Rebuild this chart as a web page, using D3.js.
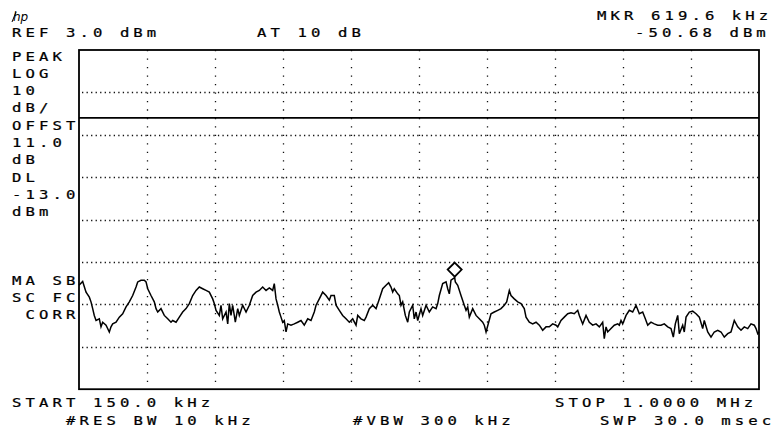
<!DOCTYPE html>
<html>
<head>
<meta charset="utf-8">
<script src="https://cdn.jsdelivr.net/npm/d3@7"></script>
<style>
  body { margin: 0; background: #fff; }
  text.lbl { font-family: "DejaVu Sans Mono", monospace; font-size: 13px; letter-spacing: 3.42px; white-space: pre; fill: #000; stroke: #000; stroke-width: 0.25px; }
</style>
</head>
<body>
<div id="chart"></div>
<script>
// Trace: frequency (kHz) and level (dBm)
const traceKHz = [150.0,154.6,158.8,162.9,165.0,167.1,169.1,171.3,175.4,177.5,179.6,183.8,187.9,190.0,192.1,196.3,200.4,204.6,208.8,212.9,
  217.1,221.3,223.4,227.5,231.6,233.8,235.9,240.0,244.1,246.3,248.4,252.5,256.6,260.9,265.0,267.1,271.3,275.4,279.6,283.8,
  287.9,292.1,296.3,300.4,304.6,308.8,312.9,317.1,319.1,321.3,325.4,327.5,329.6,333.8,335.9,337.9,340.0,342.1,345.4,348.4,
  350.4,354.6,358.8,362.9,367.1,371.3,375.4,379.6,383.8,387.9,392.1,394.1,396.3,398.4,400.4,402.5,404.6,406.6,408.8,410.9,
  415.0,419.1,423.4,427.5,431.6,435.9,440.0,444.1,446.3,450.4,454.6,458.8,462.9,465.0,469.1,471.3,475.4,479.6,483.8,487.9,
  492.1,496.3,498.4,502.5,506.6,508.8,512.9,517.1,521.3,525.4,529.6,533.8,537.1,540.0,542.1,544.1,548.4,550.4,552.5,554.6,
  557.9,560.9,562.9,567.1,569.1,571.3,573.4,577.5,579.6,583.8,587.9,592.1,596.3,598.4,600.4,604.6,608.8,610.9,612.9,615.0,
  619.6,620.4,623.4,627.5,631.6,633.8,635.9,637.9,642.1,646.3,650.4,654.6,656.6,658.8,662.1,665.0,669.1,673.4,677.5,681.6,
  684.6,687.9,690.0,694.1,698.4,702.5,706.6,708.8,712.9,717.1,721.3,725.4,729.6,733.8,737.9,742.1,746.3,748.4,752.5,756.6,
  760.9,765.0,769.1,773.4,775.4,779.6,783.8,787.9,792.1,796.3,800.4,804.6,806.6,808.8,810.9,815.0,819.1,823.4,825.4,827.5,
  829.6,833.8,837.9,842.1,846.3,850.4,854.6,857.9,860.9,865.0,869.1,873.4,877.5,881.6,885.9,890.0,892.9,895.4,898.4,900.4,
  904.6,906.6,908.8,912.9,917.1,921.3,925.4,929.6,931.6,935.9,940.0,944.1,948.4,952.5,956.6,960.9,965.0,969.1,973.4,977.5,
  981.6,985.9,990.0,994.1,996.3,998.4,1000.0];
const traceDbm = [-52.5,-51.6,-54.1,-55.3,-56.4,-58.0,-59.6,-60.8,-60.4,-62.3,-61.2,-61.9,-63.5,-62.3,-61.6,-61.2,-60.0,-59.2,-57.6,-56.4,
  -54.9,-52.9,-51.7,-51.3,-51.3,-51.7,-53.3,-54.9,-56.4,-58.0,-58.8,-58.0,-59.6,-60.4,-61.2,-60.8,-61.2,-60.0,-58.8,-58.0,
  -56.8,-54.9,-53.7,-52.9,-53.3,-53.7,-54.1,-55.7,-56.8,-58.4,-59.6,-57.2,-60.4,-58.8,-61.6,-56.8,-59.6,-57.2,-61.2,-58.0,
  -59.6,-57.2,-58.8,-57.2,-54.9,-54.1,-53.7,-52.9,-53.7,-53.1,-53.7,-52.1,-55.7,-57.2,-58.8,-60.0,-61.2,-60.8,-63.5,-61.6,
  -61.9,-61.6,-61.2,-60.8,-61.9,-60.4,-60.8,-58.8,-57.2,-55.7,-54.1,-54.9,-56.0,-54.9,-54.9,-57.2,-58.4,-59.6,-60.4,-61.2,
  -60.4,-61.9,-59.6,-60.4,-60.8,-60.0,-58.0,-57.2,-58.0,-55.7,-53.3,-52.5,-51.9,-52.9,-54.1,-53.3,-54.5,-54.9,-57.2,-56.4,
  -59.6,-61.2,-58.8,-57.2,-60.4,-58.8,-60.8,-58.0,-59.6,-57.2,-58.8,-57.6,-58.0,-56.8,-54.9,-52.1,-51.7,-53.3,-54.5,-51.3,
  -50.68,-51.7,-52.5,-54.9,-57.2,-58.4,-57.6,-60.0,-58.0,-59.6,-60.4,-61.2,-61.9,-63.5,-61.2,-59.2,-58.8,-58.4,-58.0,-57.2,
  -56.4,-53.7,-54.9,-55.7,-56.4,-56.8,-58.0,-60.0,-61.2,-61.6,-61.2,-61.9,-63.1,-62.3,-62.3,-61.6,-61.9,-62.3,-60.8,-60.0,
  -59.2,-59.0,-59.2,-58.4,-59.6,-61.6,-59.6,-61.2,-61.9,-61.6,-62.3,-61.2,-65.1,-62.3,-63.5,-62.7,-61.9,-61.6,-61.9,-60.8,
  -61.6,-59.6,-58.4,-58.8,-57.2,-59.2,-58.8,-60.4,-61.9,-61.2,-61.6,-61.9,-61.9,-61.6,-62.3,-62.7,-64.7,-61.6,-59.6,-63.9,
  -61.9,-63.5,-60.0,-58.8,-58.6,-59.2,-60.0,-62.7,-60.8,-63.5,-64.7,-63.5,-63.1,-63.5,-64.7,-63.9,-63.5,-60.8,-62.3,-63.1,
  -62.3,-62.7,-61.6,-61.9,-62.7,-63.9,-63.5];

const markerKHz = 619.6;
const markerDbm = -50.68;
const refDbm = 3.0;
const displayLineDbm = -13.0;
const startKHz = 150.0;
const stopKHz = 1000.0;

const leftLabels = ["PEAK", "LOG", "10", "dB/", "OFFST", "11.0", "dB", "DL", "-13.0", "dBm"];
const modeLabels = ["MA SB", "SC FC", " CORR"];

const width = 775, height = 436;
const svg = d3.select("#chart").append("svg")
  .attr("width", width).attr("height", height);

const x = d3.scaleLinear().domain([startKHz, stopKHz]).range([79, 759]);
const y = d3.scaleLinear().domain([refDbm - 80, refDbm]).range([389.2, 50]);

// dotted graticule
const g = svg.append("g");
g.selectAll("line.v")
  .data(d3.range(1, 10).map(i => startKHz + i * (stopKHz - startKHz) / 10))
  .enter().append("line")
  .attr("x1", d => Math.round(x(d)) + 0.5).attr("x2", d => Math.round(x(d)) + 0.5)
  .attr("y1", y.range()[1]).attr("y2", y.range()[0])
  .attr("stroke", "#111").attr("stroke-width", 1.3)
  .attr("stroke-dasharray", "1.3,7.18");
g.selectAll("line.h")
  .data(d3.range(1, 8).map(i => refDbm - i * 10))
  .enter().append("line")
  .attr("x1", x.range()[0]).attr("x2", x.range()[1])
  .attr("y1", d => Math.round(y(d)) + 0.5).attr("y2", d => Math.round(y(d)) + 0.5)
  .attr("stroke", "#111").attr("stroke-width", 1.3)
  .attr("stroke-dasharray", "1.3,3.23")
  .attr("stroke-dashoffset", -3);

// display line
svg.append("line")
  .attr("x1", x.range()[0]).attr("x2", x.range()[1])
  .attr("y1", y(displayLineDbm)).attr("y2", y(displayLineDbm))
  .attr("stroke", "#000").attr("stroke-width", 1.8);

// frame
svg.append("rect")
  .attr("x", x.range()[0]).attr("y", y.range()[1])
  .attr("width", x.range()[1] - x.range()[0]).attr("height", y.range()[0] - y.range()[1])
  .attr("fill", "none").attr("stroke", "#000").attr("stroke-width", 1.8);

// trace
const line = d3.line().x((d, i) => x(traceKHz[i])).y(d => y(d));
svg.append("path")
  .datum(traceDbm)
  .attr("d", line)
  .attr("fill", "none").attr("stroke", "#000").attr("stroke-width", 1.5);

// marker diamond sitting on the peak
const mx = x(markerKHz), my = y(markerDbm) - 8;
svg.append("path")
  .attr("d", `M${mx},${my - 7}L${mx + 7},${my}L${mx},${my + 7}L${mx - 7},${my}Z`)
  .attr("fill", "none").attr("stroke", "#000").attr("stroke-width", 1.8);

// annotation text, stretched sideways like the instrument font
function txt(s, tx, ty) {
  svg.append("text").attr("class", "lbl")
    .attr("transform", `translate(${tx},${ty}) scale(1.2,1)`)
    .text(s);
}
svg.append("text").attr("x", 13).attr("y", 21)
  .style("font-family", "DejaVu Sans").style("font-style", "italic")
  .style("font-size", "12px").text("hp");
svg.append("line").attr("x1", 12).attr("x2", 16).attr("y1", 22).attr("y2", 12)
  .attr("stroke", "#000").attr("stroke-width", 1);

txt("REF " + refDbm.toFixed(1) + " dBm", 12, 37);
txt("AT 10 dB", 257, 37);
txt("MKR " + markerKHz.toFixed(1) + " kHz", 597, 20);
txt(markerDbm.toFixed(2) + " dBm", 635, 37);

leftLabels.forEach((s, i) => txt(s, 12, 60.5 + i * 17.3));
modeLabels.forEach((s, i) => txt(s, 12, 285 + i * 17));

txt("START " + startKHz.toFixed(1) + " kHz", 12, 407);
txt("STOP " + (stopKHz / 1000).toFixed(4) + " MHz", 555, 407);
txt("#RES BW 10 kHz", 66, 425);
txt("#VBW 300 kHz", 353, 425);
txt("SWP 30.0 msec", 600, 425);
</script>
</body>
</html>
